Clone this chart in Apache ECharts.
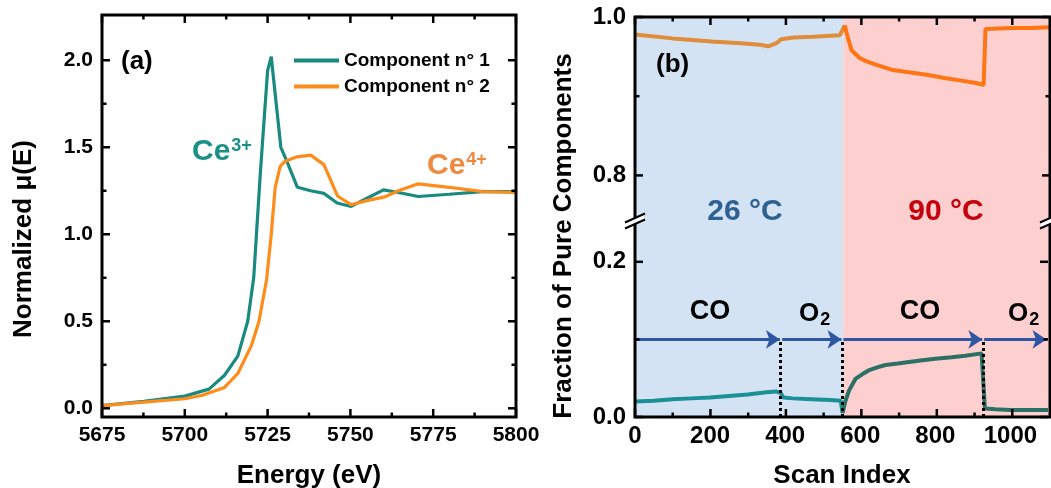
<!DOCTYPE html>
<html>
<head>
<meta charset="utf-8">
<script src="https://cdn.jsdelivr.net/npm/echarts@6/dist/echarts.min.js"></script>
<style>html,body{margin:0;padding:0;background:#fff}#c{width:1051px;height:488px}</style>
</head>
<body>
<div id="c"></div>
<script>
// ---------- Panel (a): XANES spectra ----------
const energyComp1 = [5675, 5687.6, 5700, 5707.3, 5712, 5716, 5719, 5720.8, 5722.8, 5725, 5726.1, 5729, 5730.8, 5734, 5738, 5742, 5746, 5750.2, 5755.3, 5760, 5764.5, 5770.5, 5779.8, 5790, 5800];
const muComp1     = [0.015, 0.04, 0.07, 0.11, 0.19, 0.30, 0.50, 0.75, 1.35, 1.94, 2.02, 1.50, 1.42, 1.27, 1.25, 1.235, 1.18, 1.16, 1.21, 1.255, 1.24, 1.217, 1.23, 1.245, 1.245];
const energyComp2 = [5675, 5687.6, 5700, 5705.3, 5712, 5716, 5720.1, 5722.4, 5724.7, 5726, 5727.3, 5728.8, 5730.3, 5733.9, 5738, 5742, 5746.1, 5750.2, 5755.3, 5760.4, 5764.5, 5770.5, 5779.8, 5790, 5800];
const muComp2     = [0.015, 0.035, 0.055, 0.075, 0.12, 0.20, 0.36, 0.50, 0.74, 0.98, 1.27, 1.39, 1.42, 1.445, 1.455, 1.40, 1.22, 1.17, 1.195, 1.215, 1.25, 1.29, 1.27, 1.245, 1.24];
const energyTicks = [5675, 5700, 5725, 5750, 5775, 5800];
const energyMinor = [5687.5, 5712.5, 5737.5, 5762.5, 5787.5];
const muTicks = [0, 0.5, 1.0, 1.5, 2.0];
const muMinor = [0.25, 0.75, 1.25, 1.75];

// ---------- Panel (b): fractions vs scan index ----------
const scanComp1 = [0, 50, 100, 150, 200, 250, 300, 350, 375, 388, 395, 420, 470, 520, 548, 553, 560, 570, 587, 605, 622, 645, 667, 700, 755, 800, 843, 880, 923, 927, 932, 960, 1000, 1050, 1100];
const fracComp1 = [0.020, 0.021, 0.023, 0.024, 0.025, 0.027, 0.029, 0.032, 0.033, 0.031, 0.025, 0.024, 0.023, 0.022, 0.021, 0.005, 0.020, 0.034, 0.049, 0.055, 0.060, 0.064, 0.067, 0.069, 0.0725, 0.075, 0.077, 0.079, 0.082, 0.081, 0.011, 0.010, 0.009, 0.009, 0.009];
const scanComp2 = [0, 100, 203, 280, 331, 353, 375, 388, 420, 472, 543, 556, 561, 574, 596, 614, 640, 684, 730, 773, 820, 861, 900, 918, 924, 929, 1000, 1050, 1100];
const fracComp2 = [0.978, 0.973, 0.969, 0.967, 0.965, 0.963, 0.967, 0.972, 0.974, 0.975, 0.977, 0.9895, 0.9795, 0.958, 0.948, 0.944, 0.9396, 0.933, 0.930, 0.927, 0.923, 0.920, 0.917, 0.915, 0.914, 0.985, 0.986, 0.986, 0.987];
const scanTicks = [0, 200, 400, 600, 800, 1000];
const scanMinor = [100, 300, 500, 700, 900];
const upperTicks = [0.8, 1.0];
const upperMinor = [0.9];
const lowerTicks = [0.0, 0.2];
const lowerMinor = [0.1];
const tempBoundary = 552;               // 26 °C -> 90 °C
const gasSwitches = [388, 552, 927];    // dotted markers
const gasArrows = [[0, 386], [392, 550], [555, 925], [930, 1096]];
const arrowLevel = 0.1;

const F = '"Liberation Sans", Arial, Helvetica, sans-serif';
const TEAL = '#188a80', ORANGE = '#ff8c1a';
const BLUE_BG = '#d4e3f3', RED_BG = '#fdcfcf';
const MAJOR = 8, MINOR = 4.5, TICK_W = 2.5;

const GRIDS = [
  { left: 102, top: 15, width: 414, height: 402 },      // 0 frame (a)
  { left: 102, top: 15, width: 414, height: 393.3 },    // 1 data (a)
  { left: 635, top: 17, width: 415, height: 400 },      // 2 frame (b)
  { left: 635, top: 17, width: 415, height: 158.4 },    // 3 upper (b)
  { left: 635, top: 261.8, width: 415, height: 155.2 }  // 4 lower (b)
];

function axis(grid, pos, min, max, interval, labelFmt, fs, extra) {
  const ax = {
    type: 'value', gridIndex: grid, position: pos, min: min, max: max, interval: interval,
    axisLine: { show: false, onZero: false },
    axisTick: { show: false },
    splitLine: { show: false },
    axisLabel: labelFmt ? { show: true, color: '#000', fontFamily: F, fontWeight: 'bold', fontSize: fs,
      margin: (pos === 'bottom' ? 7 : 9), formatter: labelFmt } : { show: false }
  };
  return Object.assign(ax, extra || {});
}
function hiddenAxis(grid, min, max) {
  return { type: 'value', gridIndex: grid, min: min, max: max, show: false };
}
const near = (v, step) => Math.abs(v / step - Math.round(v / step)) < 1e-6;
const fmtEnergy = v => near(v, 25) ? String(Math.round(v)) : '';
const fmtScan = v => near(v, 200) ? String(Math.round(v)) : '';
const fmtMu = v => near(v, 0.5) ? v.toFixed(1) : '';
const fmtFrac = v => near(v, 0.2) ? v.toFixed(1) : '';

const xAxes = [
  hiddenAxis(0, 5675, 5800),
  axis(1, 'bottom', 5675, 5800, 25, fmtEnergy, 21, { offset: 9 }),
  hiddenAxis(2, 0, 1100),
  axis(3, 'top', 0, 1100, 200, null),
  axis(4, 'bottom', 0, 1100, 200, fmtScan, 24)
];
const yAxes = [
  hiddenAxis(0, -0.05, 2.26),
  axis(1, 'left', 0, 2.26, 0.5, fmtMu, 21),
  hiddenAxis(2, 0, 1),
  axis(3, 'left', 0.8, 1.0, 0.2, fmtFrac, 24),
  axis(4, 'left', 0, 0.2, 0.2, fmtFrac, 24)
];

const zip = (a, b) => a.map((v, i) => [v, b[i]]);
function splitAt(xs, ys, bound) {
  const k = xs.findIndex(x => x >= bound);
  const pts = zip(xs, ys);
  return [pts.slice(0, k + 1), pts.slice(k)];
}
const comp1Parts = splitAt(scanComp1, fracComp1, tempBoundary);
const comp2Parts = splitAt(scanComp2, fracComp2, tempBoundary);
const frame = { show: true, borderColor: '#000', borderWidth: 3, backgroundColor: 'transparent', z: 20 };

function traceB(data, xi, yi, color) {
  return { type: 'line', xAxisIndex: xi, yAxisIndex: yi, symbol: 'none', data: data,
    color: color, lineStyle: { width: 4, color: color }, z: 3 };
}

const baseGraphic = [
  { type: 'text', x: 121, y: 62, z: 50, style: { text: '(a)', font: 'bold 26px ' + F, fill: '#000', verticalAlign: 'middle' } },
  { type: 'text', x: 192, y: 152, z: 50, style: { text: '{a|Ce}{b|3+}', verticalAlign: 'middle', fill: '#1a9088',
      rich: { a: { fontFamily: F, fontWeight: 'bold', fontSize: 30, fill: '#1a9088' },
              b: { fontFamily: F, fontWeight: 'bold', fontSize: 18, fill: '#1a9088', padding: [0, 0, 11, 1] } } } },
  { type: 'text', x: 427, y: 166, z: 50, style: { text: '{a|Ce}{b|4+}', verticalAlign: 'middle', fill: '#ee8a40',
      rich: { a: { fontFamily: F, fontWeight: 'bold', fontSize: 30, fill: '#ee8a40' },
              b: { fontFamily: F, fontWeight: 'bold', fontSize: 18, fill: '#ee8a40', padding: [0, 0, 11, 1] } } } },
  { type: 'text', x: 24, y: 239, rotation: Math.PI / 2, z: 50,
    style: { text: 'Normalized μ(E)', font: 'bold 26px ' + F, fill: '#000', align: 'center', verticalAlign: 'middle' } },
  { type: 'text', x: 309, y: 476, z: 50,
    style: { text: 'Energy (eV)', font: 'bold 26px ' + F, fill: '#000', align: 'center', verticalAlign: 'middle' } },
  { type: 'text', x: 564, y: 236, rotation: Math.PI / 2, z: 50,
    style: { text: 'Fraction of Pure Components', font: 'bold 26px ' + F, fill: '#000', align: 'center', verticalAlign: 'middle' } },
  { type: 'text', x: 842, y: 476, z: 50,
    style: { text: 'Scan Index', font: 'bold 26px ' + F, fill: '#000', align: 'center', verticalAlign: 'middle' } },
  { type: 'text', x: 656, y: 65, z: 50,
    style: { text: '(b)', font: 'bold 26px ' + F, fill: '#000', verticalAlign: 'middle' } },
  { type: 'text', x: 745, y: 212, z: 50,
    style: { text: '26 °C', font: 'bold 30px ' + F, fill: '#2e6191', align: 'center', verticalAlign: 'middle' } },
  { type: 'text', x: 946, y: 212, z: 50,
    style: { text: '90 °C', font: 'bold 30px ' + F, fill: '#c4000c', align: 'center', verticalAlign: 'middle' } },
  { type: 'text', x: 710, y: 312, z: 50,
    style: { text: 'CO', font: 'bold 27px ' + F, fill: '#000', align: 'center', verticalAlign: 'middle' } },
  { type: 'text', x: 920, y: 312, z: 50,
    style: { text: 'CO', font: 'bold 27px ' + F, fill: '#000', align: 'center', verticalAlign: 'middle' } },
  { type: 'text', x: 799, y: 314, z: 50, style: { text: '{a|O}{b|2}', verticalAlign: 'middle', fill: '#000',
      rich: { a: { fontFamily: F, fontWeight: 'bold', fontSize: 26, fill: '#000' },
              b: { fontFamily: F, fontWeight: 'bold', fontSize: 18, fill: '#000', padding: [12, 0, 0, 1] } } } },
  { type: 'text', x: 1008, y: 314, z: 50, style: { text: '{a|O}{b|2}', verticalAlign: 'middle', fill: '#000',
      rich: { a: { fontFamily: F, fontWeight: 'bold', fontSize: 26, fill: '#000' },
              b: { fontFamily: F, fontWeight: 'bold', fontSize: 18, fill: '#000', padding: [12, 0, 0, 1] } } } },
  // axis-break marks
  { type: 'polygon', z: 60, shape: { points: [[626, 222], [644, 214], [644, 220], [626, 228]] }, style: { fill: '#fff' } },
  { type: 'line', z: 61, shape: { x1: 625, y1: 222.5, x2: 645, y2: 213.5 }, style: { stroke: '#000', lineWidth: 2 } },
  { type: 'line', z: 61, shape: { x1: 625, y1: 228.5, x2: 645, y2: 219.5 }, style: { stroke: '#000', lineWidth: 2 } },
  { type: 'polygon', z: 60, shape: { points: [[1041, 222], [1059, 214], [1059, 220], [1041, 228]] }, style: { fill: '#fff' } },
  { type: 'line', z: 61, shape: { x1: 1040, y1: 222.5, x2: 1060, y2: 213.5 }, style: { stroke: '#000', lineWidth: 2 } },
  { type: 'line', z: 61, shape: { x1: 1040, y1: 228.5, x2: 1060, y2: 219.5 }, style: { stroke: '#000', lineWidth: 2 } }
];

const option = {
  animation: false,
  backgroundColor: '#fff',
  grid: [
    Object.assign({}, GRIDS[0], frame),
    GRIDS[1],
    Object.assign({}, GRIDS[2], frame),
    GRIDS[3],
    GRIDS[4]
  ],
  xAxis: xAxes,
  yAxis: yAxes,
  legend: {
    data: ['Component n° 1', 'Component n° 2'],
    orient: 'vertical', left: 294, top: 51, padding: 0,
    icon: 'rect', itemWidth: 45, itemHeight: 4, itemGap: 7,
    textStyle: { fontFamily: F, fontWeight: 'bold', fontSize: 19, color: '#000' }
  },
  series: [
    { name: 'Component n° 1', type: 'line', xAxisIndex: 1, yAxisIndex: 1, symbol: 'none',
      data: zip(energyComp1, muComp1), color: TEAL, lineStyle: { width: 3.2, color: TEAL }, z: 3 },
    { name: 'Component n° 2', type: 'line', xAxisIndex: 1, yAxisIndex: 1, symbol: 'none',
      data: zip(energyComp2, muComp2), color: ORANGE, lineStyle: { width: 3.2, color: ORANGE }, z: 4 },
    { type: 'custom', xAxisIndex: 2, yAxisIndex: 2, silent: true, z: 1,
      data: [[0, tempBoundary, 0], [tempBoundary, 1100, 1]],
      renderItem: function (params, api) {
        const p0 = api.coord([api.value(0), 1]);
        const p1 = api.coord([api.value(1), 0]);
        return { type: 'rect', shape: { x: p0[0], y: p0[1], width: p1[0] - p0[0], height: p1[1] - p0[1] },
          style: { fill: api.value(2) === 0 ? BLUE_BG : RED_BG } };
      } },
    traceB(comp2Parts[0], 3, 3, '#df8c3b'),
    traceB(comp2Parts[1], 3, 3, '#ff7514'),
    traceB(comp1Parts[0], 4, 4, '#1b9096'),
    traceB(comp1Parts[1], 4, 4, '#2b7065'),
    { type: 'lines', coordinateSystem: 'cartesian2d', xAxisIndex: 4, yAxisIndex: 4,
      symbol: ['none', 'arrow'], symbolSize: 14, silent: true, z: 5,
      lineStyle: { color: '#2f56a3', width: 3, opacity: 1, curveness: 0 },
      data: gasArrows.map(s => ({ coords: [[s[0], arrowLevel], [s[1], arrowLevel]] })) },
    { type: 'lines', coordinateSystem: 'cartesian2d', xAxisIndex: 4, yAxisIndex: 4,
      symbol: ['none', 'none'], silent: true, z: 6,
      lineStyle: { color: '#000', width: 3, opacity: 1, type: [3, 3], curveness: 0 },
      data: gasSwitches.map(x => ({ coords: [[x, 0], [x, arrowLevel]] })) }
  ],
  graphic: baseGraphic
};

const chart = echarts.init(document.getElementById('c'));
chart.setOption(option);

// pixel position of a value on an axis: library scale when it lands inside its grid, else grid's linear layout
function px(dim, idx, v) {
  const g = GRIDS[idx];
  const ax = dim === 'x' ? xAxes[idx] : yAxes[idx];
  const lin = dim === 'x' ? g.left + (v - ax.min) / (ax.max - ax.min) * g.width
                          : g.top + (ax.max - v) / (ax.max - ax.min) * g.height;
  let p = NaN;
  try {
    const r = chart.convertToPixel(dim === 'x' ? { xAxisIndex: idx } : { yAxisIndex: idx }, v);
    p = Array.isArray(r) ? r[dim === 'x' ? 0 : 1] : r;
  } catch (e) { p = NaN; }
  if (typeof p !== 'number' || !isFinite(p) || Math.abs(p - lin) > 2) p = lin;
  return p;
}
const tickEls = [];
function bar(x, y, w, h) {
  tickEls.push({ type: 'rect', z: 45, silent: true, shape: { x: x, y: y, width: w, height: h },
    style: { fill: '#000' } });
}
function xTicks(i, values, len) {
  const yb = px('y', i, yAxes[i].min), yt = px('y', i, yAxes[i].max);
  values.forEach(v => {
    const x = px('x', i, v);
    bar(x - TICK_W / 2, yb - len, TICK_W, len);
    bar(x - TICK_W / 2, yt, TICK_W, len);
  });
}
function yTicks(i, values, len) {
  const xl = px('x', i, xAxes[i].min), xr = px('x', i, xAxes[i].max);
  values.forEach(v => {
    const y = px('y', i, v);
    bar(xl, y - TICK_W / 2, len, TICK_W);
    bar(xr - len, y - TICK_W / 2, len, TICK_W);
  });
}
xTicks(0, energyTicks, MAJOR);
xTicks(0, energyMinor, MINOR);
yTicks(0, muTicks, MAJOR);
yTicks(0, muMinor, MINOR);
xTicks(2, scanTicks, MAJOR);
xTicks(2, scanMinor, MINOR);
yTicks(3, upperTicks, MAJOR);
yTicks(3, upperMinor, MINOR);
yTicks(4, lowerTicks, MAJOR);
yTicks(4, lowerMinor, MINOR);
option.graphic = baseGraphic.concat(tickEls);
chart.setOption(option, true);
</script>
</body>
</html>
